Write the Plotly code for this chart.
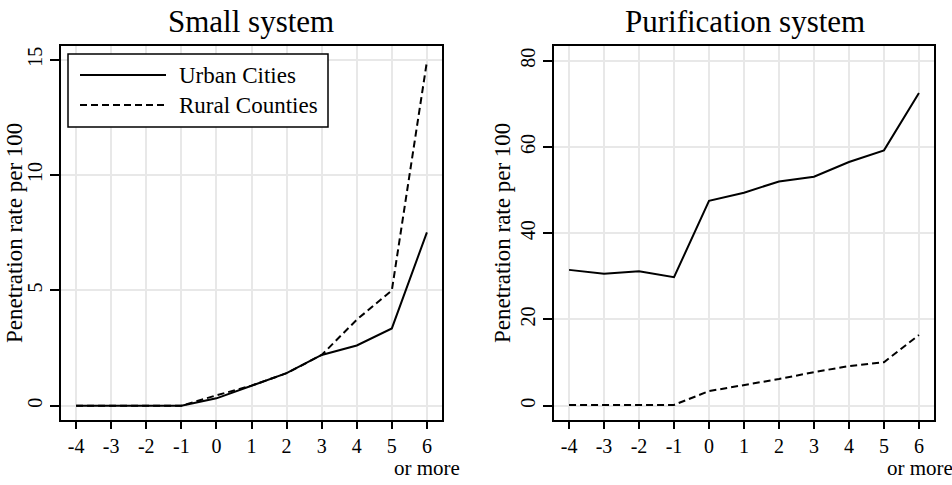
import plotly.graph_objects as go

# ---------------- data ----------------
periods = [-4, -3, -2, -1, 0, 1, 2, 3, 4, 5, 6]
period_labels = ["-4", "-3", "-2", "-1", "0", "1", "2", "3", "4", "5", "6"]
series_names = ["Urban Cities", "Rural Counties"]
panel_titles = ["Small system", "Purification system"]

small_urban = [0.0, 0.0, 0.0, 0.0, 0.32, 0.87, 1.41, 2.20, 2.61, 3.35, 7.52]
small_rural = [0.0, 0.0, 0.0, 0.0, 0.45, 0.87, 1.41, 2.20, 3.73, 5.00, 14.93]
purif_urban = [31.5, 30.6, 31.2, 29.8, 47.5, 49.4, 52.0, 53.1, 56.5, 59.2, 72.5]
purif_rural = [0.2, 0.2, 0.2, 0.2, 3.4, 4.8, 6.2, 7.8, 9.2, 10.1, 16.4]

small_yticks = [0, 5, 10, 15]
purif_yticks = [0, 20, 40, 60, 80]

# ---------------- layout helpers ----------------
W, H = 952, 485
FONT = "Liberation Serif, Times New Roman, serif"


def px_x(p):
    return p / W


def px_y(p):
    return 1 - p / H


fig = go.Figure()

dash_pat = "7px,4px"
for xa, ya, urb, rur in [("x", "y", small_urban, small_rural),
                         ("x2", "y2", purif_urban, purif_rural)]:
    fig.add_trace(go.Scatter(x=periods, y=urb, mode="lines", name=series_names[0],
                             line=dict(color="black", width=2), xaxis=xa, yaxis=ya,
                             showlegend=False))
    fig.add_trace(go.Scatter(x=periods, y=rur, mode="lines", name=series_names[1],
                             line=dict(color="black", width=2, dash=dash_pat),
                             xaxis=xa, yaxis=ya, showlegend=False))

common_x = dict(range=[-4.43, 6.43], tickmode="array", tickvals=periods,
                ticktext=period_labels, showgrid=True, gridcolor="#e8e8e8",
                gridwidth=1.5, zeroline=False, showline=True, linecolor="black",
                linewidth=2, mirror=True, ticks="outside", ticklen=7,
                tickcolor="black", tickwidth=1.5,
                tickfont=dict(family=FONT, size=20, color="black"),
                automargin=False, fixedrange=True)
common_y = dict(tickmode="array", showgrid=True, gridcolor="#e8e8e8",
                gridwidth=1.5, zeroline=False, showline=True, linecolor="black",
                linewidth=2, mirror=True, ticks="outside", ticklen=9,
                tickcolor="black", tickwidth=1.5, tickangle=-90,
                tickfont=dict(family=FONT, size=20, color="black"),
                automargin=False, fixedrange=True)

fig.update_layout(
    width=W, height=H,
    margin=dict(l=0, r=0, t=0, b=0),
    paper_bgcolor="white", plot_bgcolor="white",
    xaxis=dict(domain=[px_x(61), px_x(442)], anchor="y", **common_x),
    yaxis=dict(domain=[px_y(420), px_y(46)], anchor="x", range=[-0.62, 15.6],
               tickvals=small_yticks, ticktext=[str(v) for v in small_yticks],
               **common_y),
    xaxis2=dict(domain=[px_x(554), px_x(934)], anchor="y2", **common_x),
    yaxis2=dict(domain=[px_y(420), px_y(46)], anchor="x2", range=[-3.3, 83.4],
                tickvals=purif_yticks, ticktext=[str(v) for v in purif_yticks],
                **common_y),
    showlegend=False,
)

ann = []
# panel titles
ann.append(dict(text=panel_titles[0], x=px_x(251), y=px_y(22), xref="paper", yref="paper",
                xanchor="center", yanchor="middle", showarrow=False,
                font=dict(family=FONT, size=31, color="black")))
ann.append(dict(text=panel_titles[1], x=px_x(745), y=px_y(22), xref="paper", yref="paper",
                xanchor="center", yanchor="middle", showarrow=False,
                font=dict(family=FONT, size=31, color="black")))
# y axis titles
for xc in (14, 502):
    ann.append(dict(text="Penetration rate per 100", x=px_x(xc), y=px_y(233),
                    xref="paper", yref="paper", xanchor="center", yanchor="middle",
                    textangle=-90, showarrow=False,
                    font=dict(family=FONT, size=23, color="black")))
# "or more" under the last tick
for xs in (392, 885):
    ann.append(dict(text="or more", x=px_x(xs), y=px_y(468), xref="paper", yref="paper",
                    xanchor="left", yanchor="middle", showarrow=False,
                    font=dict(family=FONT, size=21, color="black")))
# legend text
ann.append(dict(text=series_names[0], x=px_x(177), y=px_y(75), xref="paper", yref="paper",
                xanchor="left", yanchor="middle", showarrow=False,
                font=dict(family=FONT, size=23, color="black")))
ann.append(dict(text=series_names[1], x=px_x(177), y=px_y(105), xref="paper", yref="paper",
                xanchor="left", yanchor="middle", showarrow=False,
                font=dict(family=FONT, size=23, color="black")))

shapes = [
    dict(type="rect", xref="paper", yref="paper", x0=px_x(68), x1=px_x(328),
         y0=px_y(127), y1=px_y(54), line=dict(color="black", width=1.5),
         fillcolor="white", layer="above"),
    dict(type="line", xref="paper", yref="paper", x0=px_x(80), x1=px_x(166),
         y0=px_y(75), y1=px_y(75), line=dict(color="black", width=2), layer="above"),
    dict(type="line", xref="paper", yref="paper", x0=px_x(80), x1=px_x(166),
         y0=px_y(105), y1=px_y(105), line=dict(color="black", width=2, dash=dash_pat),
         layer="above"),
]

fig.update_layout(annotations=ann, shapes=shapes)
fig.write_html("out.html")
